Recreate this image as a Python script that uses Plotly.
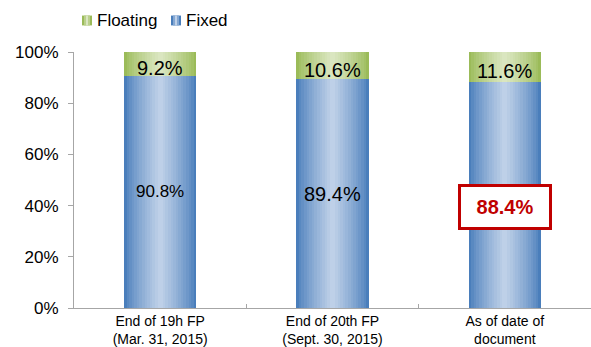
import plotly.graph_objects as go

categories = ["End of 19h FP<br>(Mar. 31, 2015)", "End of 20th FP<br>(Sept. 30, 2015)", "As of date of<br>document"]
series_names = ["Floating", "Fixed"]
fixed = [90.8, 89.4, 88.4]
floating = [9.2, 10.6, 11.6]
fixed_labels = ["90.8%", "89.4%", "88.4%"]
floating_labels = ["9.2%", "10.6%", "11.6%"]
y_ticks = [0, 20, 40, 60, 80, 100]

# styles
BAR_W = 0.42
N_LAYERS = 14
BLUE_EDGE = (74, 126, 187)
BLUE_MID = (190, 208, 232)
GREEN_EDGE = (155, 187, 89)
GREEN_MID = (218, 230, 192)
fixed_font_sizes = [17, 20, 20]
FONT = "Arial"

# plot-area geometry (px) for paper-coordinate conversion of the legend
L, T, W, H = 74, 52, 517, 260


def mix(a, b, t):
    return "rgb(%d,%d,%d)" % tuple(round(a[i] + (b[i] - a[i]) * t) for i in range(3))


def px_x(p):
    return (p - L) / W


def px_y(p):
    return (T + H - p) / H


fig = go.Figure()

# gradient-shaded bars: concentric layers of decreasing width
for name, vals, bases, edge, mid in [
    (series_names[0], floating, fixed, GREEN_EDGE, GREEN_MID),
    (series_names[1], fixed, [0] * len(fixed), BLUE_EDGE, BLUE_MID),
]:
    for k in range(N_LAYERS):
        t = k / (N_LAYERS - 1)
        fig.add_trace(go.Bar(
            x=categories, y=vals, base=bases,
            width=BAR_W * (1 - k / N_LAYERS),
            marker=dict(color=mix(edge, mid, t ** 0.8), line=dict(width=0)),
            name=name, showlegend=False, hoverinfo="skip",
        ))

# data labels
for i, c in enumerate(categories):
    if i < 2:
        fig.add_annotation(x=c, y=fixed[i] / 2, text=fixed_labels[i], showarrow=False,
                           font=dict(size=fixed_font_sizes[i], color="black", family=FONT))
    else:
        fig.add_annotation(x=c, y=fixed[i] / 2, yshift=-12, text="<b>" + fixed_labels[i] + "</b>",
                           showarrow=False, font=dict(size=20, color="#C00000", family=FONT),
                           bgcolor="white", bordercolor="#C00000", borderwidth=3,
                           width=86, height=38, align="center", valign="middle")
    fig.add_annotation(x=c, y=fixed[i] + floating[i] / 2, yshift=-4, text=floating_labels[i],
                       showarrow=False, font=dict(size=20, color="black", family=FONT))

# legend (custom, compact like the original)
legend_items = [(series_names[0], GREEN_EDGE, GREEN_MID, 82), (series_names[1], BLUE_EDGE, BLUE_MID, 171)]
for name, edge, mid, x0 in legend_items:
    for j, (dx0, dx1, t) in enumerate([(0, 10, 0.0), (2, 8, 0.5), (4, 6, 1.0)]):
        fig.add_shape(type="rect", xref="paper", yref="paper",
                      x0=px_x(x0 + dx0), x1=px_x(x0 + dx1), y0=px_y(25), y1=px_y(15),
                      fillcolor=mix(edge, mid, t), line=dict(width=0), layer="above")
    fig.add_annotation(xref="paper", yref="paper", x=px_x(x0 + 13), y=px_y(20),
                       xanchor="left", yanchor="middle", text=name, showarrow=False,
                       font=dict(size=17, color="black", family=FONT))

fig.update_layout(
    barmode="overlay",
    width=591, height=347,
    margin=dict(l=L, r=591 - L - W, t=T, b=347 - T - H),
    paper_bgcolor="white", plot_bgcolor="white",
    font=dict(family=FONT, color="black"),
    showlegend=False,
    bargap=0,
)
fig.update_yaxes(range=[0, 100], tickvals=y_ticks, ticktext=[f"{v}%" for v in y_ticks],
                 showgrid=False, zeroline=False, showline=True, linecolor="#A6A6A6", linewidth=1,
                 ticks="outside", ticklen=5, tickcolor="#A6A6A6",
                 tickfont=dict(size=17, family=FONT), ticklabelstandoff=6)
fig.update_xaxes(type="category", range=[-0.5, 2.5], showgrid=False, showline=True,
                 linecolor="#A6A6A6", linewidth=1, ticks="inside", ticklen=4, tickcolor="#A6A6A6",
                 tickson="boundaries", tickfont=dict(size=14, family=FONT))

fig.write_html("out.html")
